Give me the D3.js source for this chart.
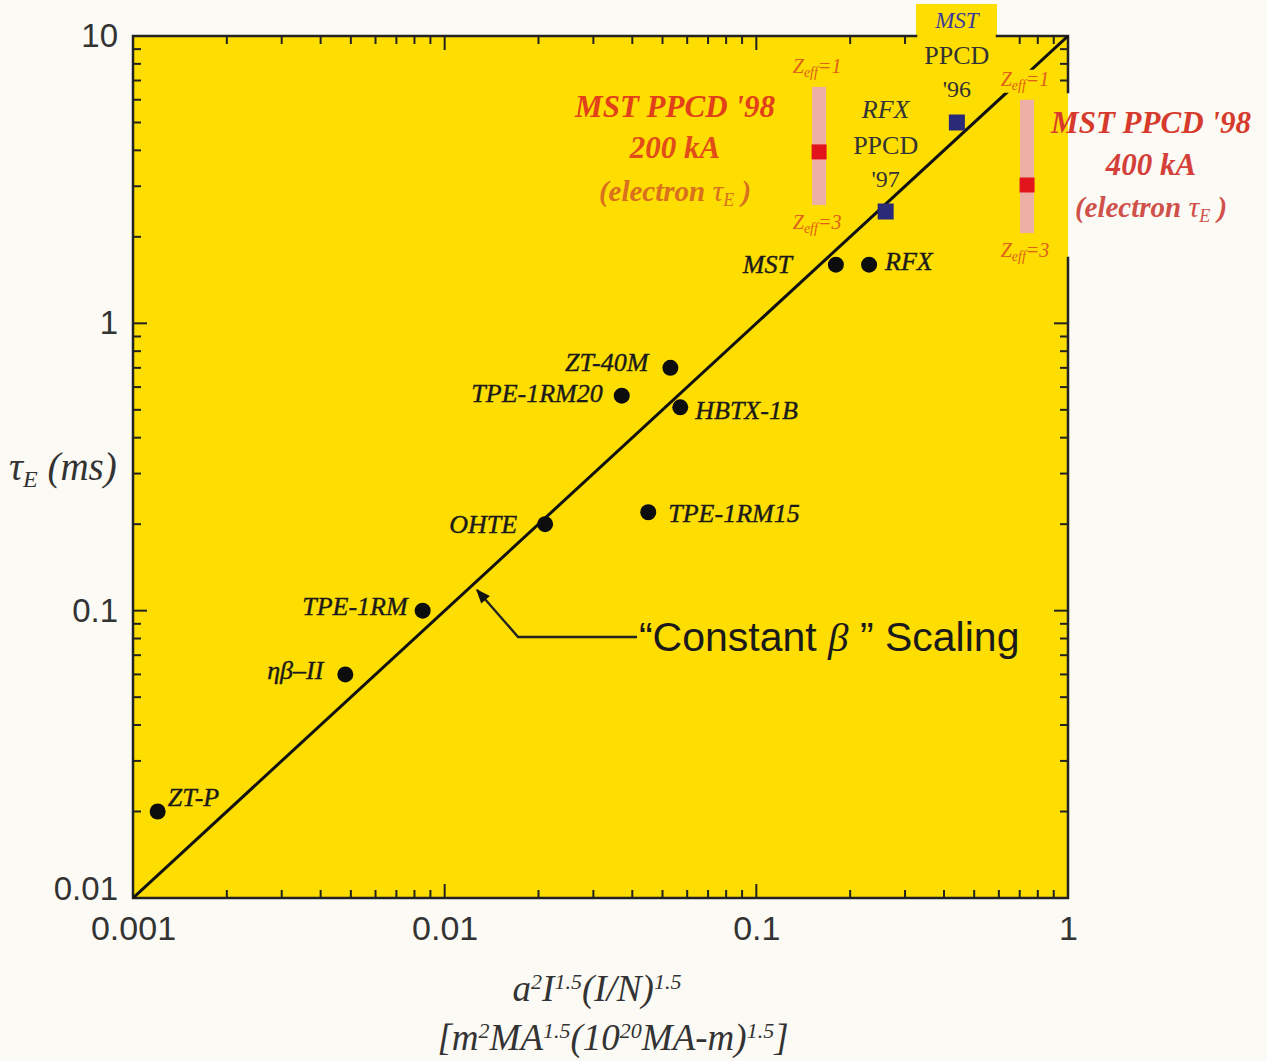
<!DOCTYPE html>
<html>
<head>
<meta charset="utf-8">
<script src="https://cdn.jsdelivr.net/npm/d3@7"></script>
<style>
  html, body { margin: 0; padding: 0; background: #fcfaf4; }
  svg { display: block; }
</style>
</head>
<body>
<svg id="chart" width="1267" height="1061"></svg>
<script>
// Energy confinement time of reversed-field pinch devices vs. a²I^1.5(I/N)^1.5

// Standard RFP experiments (filled circles)
const machines   = ["ZT-P", "ηβ–II", "TPE-1RM", "OHTE", "TPE-1RM15", "TPE-1RM20", "ZT-40M", "HBTX-1B", "MST", "RFX"];
const machineX   = [0.0012, 0.0048, 0.0085, 0.021, 0.045, 0.037, 0.053, 0.057, 0.18, 0.23];
const machineTau = [0.020, 0.060, 0.100, 0.20, 0.22, 0.56, 0.70, 0.51, 1.6, 1.6];

// PPCD (current profile control) results (filled squares)
const ppcdDevice = ["RFX", "MST"];
const ppcdYear   = ["'97", "'96"];
const ppcdX      = [0.26, 0.44];
const ppcdTau    = [2.45, 5.0];

// MST PPCD '98 electron confinement, with Zeff = 1 .. 3 range
const electronCurrent = ["200 kA", "400 kA"];
const electronX       = [0.159, 0.739];
const electronTau     = [3.95, 3.03];
const electronTauZ1   = [6.65, 6.0];
const electronTauZ3   = [2.58, 2.06];

// "Constant β" scaling: τE = C · x
const scalingCoef = 10;

// Axis ticks
const xTickValues = [0.001, 0.01, 0.1, 1];
const xTickLabels = ["0.001", "0.01", "0.1", "1"];
const yTickValues = [0.01, 0.1, 1, 10];
const yTickLabels = ["0.01", "0.1", "1", "10"];

// ---------------------------------------------------------------
const plot = { left: 133, right: 1068, top: 36, bottom: 898 };

const svg = d3.select("#chart");
const defs = svg.append("defs");
const x = d3.scaleLog().domain([0.001, 1]).range([plot.left, plot.right]);
const y = d3.scaleLog().domain([0.01, 10]).range([plot.bottom, plot.top]);

const SERIF = "'Liberation Serif', 'Times New Roman', serif";
const SANS  = "'Liberation Sans', Arial, Helvetica, sans-serif";
const YELLOW = "#fedd00";
const INK = "#1a1a1a";

// plot background
svg.append("rect")
  .attr("x", plot.left).attr("y", plot.top)
  .attr("width", plot.right - plot.left).attr("height", plot.bottom - plot.top)
  .attr("fill", YELLOW);

// yellow tab above the frame behind the "MST" PPCD label
const tab = { x0: 916, x1: 997 };
svg.append("rect")
  .attr("x", tab.x0).attr("y", 4)
  .attr("width", tab.x1 - tab.x0).attr("height", plot.top - 4 + 2)
  .attr("fill", YELLOW);

// gap in the right frame where the 400 kA label sits
const rightGap = { y0: 92, y1: 258 };

// clip for the scaling line
defs.append("clipPath").attr("id", "plotClip")
  .append("rect")
  .attr("x", plot.left).attr("y", plot.top)
  .attr("width", plot.right - plot.left).attr("height", plot.bottom - plot.top);

// ---- ticks (inward, all four sides)
const isMajor = v => Math.abs(Math.log10(v) - Math.round(Math.log10(v))) < 1e-9;
const MAJ = 14, MIN = 8;
const tickG = svg.append("g").attr("stroke", "#222").attr("stroke-width", 2);

x.ticks().forEach(v => {
  const px = x(v), L = isMajor(v) ? MAJ : MIN;
  tickG.append("line").attr("x1", px).attr("x2", px)
    .attr("y1", plot.bottom).attr("y2", plot.bottom - L);
  if (px < tab.x0 - 2 || px > tab.x1 + 2)
    tickG.append("line").attr("x1", px).attr("x2", px)
      .attr("y1", plot.top).attr("y2", plot.top + L);
});
y.ticks().forEach(v => {
  const py = y(v), L = isMajor(v) ? MAJ : MIN;
  tickG.append("line").attr("y1", py).attr("y2", py)
    .attr("x1", plot.left).attr("x2", plot.left + L);
  if (py < rightGap.y0 || py > rightGap.y1)
    tickG.append("line").attr("y1", py).attr("y2", py)
      .attr("x1", plot.right).attr("x2", plot.right - L);
});

// ---- frame, broken at the label gaps
const frame = d3.path();
frame.moveTo(plot.left, plot.bottom);
frame.lineTo(plot.left, plot.top);
frame.lineTo(tab.x0, plot.top);
frame.moveTo(tab.x1, plot.top);
frame.lineTo(plot.right, plot.top);
frame.lineTo(plot.right, rightGap.y0);
frame.moveTo(plot.right, rightGap.y1);
frame.lineTo(plot.right, plot.bottom);
frame.lineTo(plot.left, plot.bottom);
svg.append("path").attr("d", frame.toString())
  .attr("fill", "none").attr("stroke", "#222").attr("stroke-width", 2.5)
  .attr("stroke-linecap", "square");

// ---- tick labels via d3 axes (no tick lines)
const xAxis = d3.axisBottom(x).tickValues(xTickValues)
  .tickFormat((d, i) => xTickLabels[i]).tickSize(0).tickPadding(18);
svg.append("g").attr("transform", `translate(0,${plot.bottom})`).call(xAxis)
  .call(g => g.select(".domain").remove())
  .selectAll("text").attr("font-family", SANS).attr("font-size", 34).attr("fill", "#333");

const yAxis = d3.axisLeft(y).tickValues(yTickValues)
  .tickFormat((d, i) => yTickLabels[i]).tickSize(0).tickPadding(15);
svg.append("g").attr("transform", `translate(${plot.left},0)`).call(yAxis)
  .call(g => g.select(".domain").remove())
  .selectAll("text").attr("font-family", SANS).attr("font-size", 33).attr("fill", "#333")
  .attr("dy", d => d === yTickValues[0] ? "0.05em" : "0.32em");

// ---- constant-β scaling line
const [xd0, xd1] = x.domain();
svg.append("line")
  .attr("clip-path", "url(#plotClip)")
  .attr("x1", x(xd0)).attr("y1", y(scalingCoef * xd0))
  .attr("x2", x(xd1)).attr("y2", y(scalingCoef * xd1))
  .attr("stroke", "#111").attr("stroke-width", 3);

// arrow pointing at the scaling line, with its caption
const arrowPts = [[0.0127, 0.118], [0.0172, 0.081], [0.0414, 0.081]];
defs.append("marker")
  .attr("id", "arrowHead").attr("viewBox", "0 0 10 10")
  .attr("refX", 9).attr("refY", 5)
  .attr("markerWidth", 7).attr("markerHeight", 6)
  .attr("orient", "auto-start-reverse")
  .append("path").attr("d", "M0,1 L10,5 L0,9 Z").attr("fill", "#111");
svg.append("path")
  .attr("d", d3.line().x(d => x(d[0])).y(d => y(d[1]))(arrowPts.slice().reverse()))
  .attr("fill", "none").attr("stroke", "#222").attr("stroke-width", 2.4)
  .attr("marker-end", "url(#arrowHead)");
const cap = svg.append("text")
  .attr("x", x(arrowPts[2][0]) + 2).attr("y", y(arrowPts[2][1]) + 14)
  .attr("font-family", SANS).attr("font-size", 41).attr("fill", INK);
cap.append("tspan").text("“Constant ");
cap.append("tspan").attr("font-family", SERIF).attr("font-style", "italic").text("β");
cap.append("tspan").text(" ” Scaling");

// ---- Zeff bars for MST PPCD '98
const ORANGE = "#e0601a";
const zLab = (cx, val, yy) => {
  const t = svg.append("text").attr("x", cx - 2).attr("y", yy)
    .attr("text-anchor", "middle").attr("font-family", SERIF).attr("font-style", "italic")
    .attr("font-size", 20).attr("fill", ORANGE);
  t.append("tspan").text("Z");
  t.append("tspan").attr("font-size", 14).attr("dy", 4).text("eff");
  t.append("tspan").attr("dy", -4).text("=" + val);
  return t;
};
electronX.forEach((xv, i) => {
  const cx = x(xv);
  svg.append("rect")
    .attr("x", cx - 7).attr("width", 14)
    .attr("y", y(electronTauZ1[i])).attr("height", y(electronTauZ3[i]) - y(electronTauZ1[i]))
    .attr("fill", "#ecb0a6");
  svg.append("rect")
    .attr("x", cx - 7.5).attr("width", 15)
    .attr("y", y(electronTau[i]) - 7.5).attr("height", 15)
    .attr("fill", "#e2141c");
});

// ---- PPCD squares
ppcdX.forEach((xv, i) => {
  svg.append("rect")
    .attr("x", x(xv) - 8).attr("y", y(ppcdTau[i]) - 8)
    .attr("width", 16).attr("height", 16)
    .attr("fill", "#2a2a78");
});

// Zeff labels, the upper ones on a yellow patch that masks the line
electronX.forEach((xv, i) => {
  const cx = x(xv);
  const top = zLab(cx, "1", y(electronTauZ1[i]) - 14);
  const bb = top.node().getBBox();
  svg.append("rect")
    .attr("x", bb.x - 2).attr("y", bb.y + 2).attr("width", bb.width + 4).attr("height", bb.height - 2)
    .attr("fill", YELLOW);
  top.raise();
  zLab(cx, "3", y(electronTauZ3[i]) + 24);
});

// MST PPCD '98 captions
const captionPos = [
  { cx: 675, dys: [117, 158, 201], fills: ["#e2401a", "#e24c18", "#d8701e"] },
  { cx: 1151, dys: [133, 175, 217], fills: ["#d63a2c", "#d4403a", "#d0504a"] }
];
electronCurrent.forEach((cur, i) => {
  const p = captionPos[i];
  const mk = (yy, fill) => svg.append("text").attr("x", p.cx).attr("y", yy)
    .attr("text-anchor", "middle").attr("font-family", SERIF)
    .attr("font-style", "italic").attr("font-weight", "bold")
    .attr("font-size", 31).attr("fill", fill);
  mk(p.dys[0], p.fills[0]).text("MST PPCD '98");
  mk(p.dys[1], p.fills[1]).text(cur);
  const e = mk(p.dys[2], p.fills[2]).attr("font-size", 29);
  e.append("tspan").text("(electron ");
  e.append("tspan").attr("font-weight", "normal").attr("font-size", 30).text("τ");
  e.append("tspan").attr("font-weight", "normal").attr("font-size", 18).attr("dy", 5).text("E");
  e.append("tspan").attr("dy", -5).text(" )");
});

// PPCD labels (stacked above each square)
ppcdX.forEach((xv, i) => {
  const cx = x(xv), cy = y(ppcdTau[i]);
  const isMST = ppcdDevice[i] === "MST";
  svg.append("text").attr("x", cx).attr("y", cy - 94)
    .attr("text-anchor", "middle").attr("font-family", SERIF).attr("font-style", "italic")
    .attr("font-size", isMST ? 23 : 26).attr("fill", isMST ? "#3b3b9c" : "#333")
    .text(ppcdDevice[i]);
  svg.append("text").attr("x", cx).attr("y", cy - 58)
    .attr("text-anchor", "middle").attr("font-family", SERIF)
    .attr("font-size", 26).attr("fill", "#333").text("PPCD");
  svg.append("text").attr("x", cx).attr("y", cy - 25)
    .attr("text-anchor", "middle").attr("font-family", SERIF)
    .attr("font-size", 24).attr("fill", "#333").text(ppcdYear[i]);
});

// ---- machine dots and labels
const labelLayout = {
  "ZT-P":      { anchor: "start", dx: 10,  dy: -6 },
  "ηβ–II":     { anchor: "end",   dx: -22, dy: 5 },
  "TPE-1RM":   { anchor: "end",   dx: -15, dy: 4 },
  "OHTE":      { anchor: "end",   dx: -28, dy: 9 },
  "TPE-1RM15": { anchor: "start", dx: 20,  dy: 10 },
  "TPE-1RM20": { anchor: "end",   dx: -19, dy: 6 },
  "ZT-40M":    { anchor: "end",   dx: -22, dy: 3 },
  "HBTX-1B":   { anchor: "start", dx: 15,  dy: 12 },
  "MST":       { anchor: "end",   dx: -44, dy: 8 },
  "RFX":       { anchor: "start", dx: 16,  dy: 5 }
};
machines.forEach((name, i) => {
  const cx = x(machineX[i]), cy = y(machineTau[i]);
  svg.append("circle").attr("cx", cx).attr("cy", cy).attr("r", 8).attr("fill", "#0d0d0d");
  const l = labelLayout[name];
  svg.append("text").attr("x", cx + l.dx).attr("y", cy + l.dy)
    .attr("text-anchor", l.anchor).attr("font-family", SERIF).attr("font-style", "italic")
    .attr("font-size", 26).attr("fill", INK)
    .attr("stroke", INK).attr("stroke-width", 0.4).text(name);
});

// ---- axis titles
const yt = svg.append("text").attr("x", 9).attr("y", 480)
  .attr("font-family", SERIF).attr("font-style", "italic").attr("font-size", 39).attr("fill", "#333");
yt.append("tspan").text("τ");
yt.append("tspan").attr("font-size", 24).attr("dy", 7).text("E");
yt.append("tspan").attr("dy", -7).text(" (ms)");

const supText = (sel, parts) => {
  parts.forEach(p => {
    const t = sel.append("tspan").text(p[0]);
    if (p[1]) t.attr("font-size", 22).attr("dy", -12);
    if (p[2]) t.attr("dy", 12);
  });
};
const xt1 = svg.append("text").attr("x", 597).attr("y", 1001)
  .attr("text-anchor", "middle").attr("font-family", SERIF).attr("font-style", "italic")
  .attr("font-size", 37).attr("fill", "#333");
supText(xt1, [["a"], ["2", true], ["I", false, true], ["1.5", true], ["(I/N)", false, true], ["1.5", true]]);
const xt2 = svg.append("text").attr("x", 613).attr("y", 1050)
  .attr("text-anchor", "middle").attr("font-family", SERIF).attr("font-style", "italic")
  .attr("font-size", 37).attr("fill", "#333");
supText(xt2, [["[m"], ["2", true], ["MA", false, true], ["1.5", true], ["(10", false, true],
              ["20", true], ["MA-m)", false, true], ["1.5", true], ["]", false, true]]);
</script>
</body>
</html>
